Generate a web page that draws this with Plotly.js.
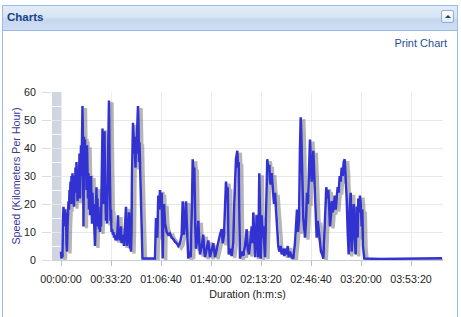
<!DOCTYPE html>
<html>
<head>
<meta charset="utf-8">
<script src="https://cdn.plot.ly/plotly-3.0.1.min.js"></script>
<style>
  html, body { margin:0; padding:0; background:#ffffff; }
  #wrap { position:relative; width:461px; height:317px; overflow:hidden; background:#ffffff; font-family:"Liberation Sans", Arial, sans-serif; }
  #panel { position:absolute; left:2px; top:5px; width:456px; height:330px; border:1px solid #99bbe8; box-sizing:border-box; background:#ffffff; }
  #header { position:absolute; left:2px; top:5px; width:456px; height:26px; box-sizing:border-box; border:1px solid #99bbe8;
            background:linear-gradient(#e3ebf7 0%, #d9e5f4 45%, #c6d8ef 55%, #cfdef2 100%); z-index:3; }
  #header .ttl { position:absolute; left:4px; top:5px; font-weight:bold; font-size:11.5px; color:#15428b; }
  #btn { position:absolute; left:438px; top:4px; width:13px; height:13px; box-sizing:border-box; border:1px solid #8fb0dc; border-radius:2px;
         background:linear-gradient(#ffffff, #dfe8f5); }
  #btn .tri { position:absolute; left:3px; top:4px; width:0; height:0; border-left:3px solid transparent; border-right:3px solid transparent; border-bottom:3px solid #2a3f66; }
  #print { position:absolute; right:14px; top:37px; font-size:11px; color:#27508f; z-index:3; }
  #chart { position:absolute; left:0; top:0; width:461px; height:317px; z-index:2; }
</style>
</head>
<body>
<div id="wrap">
  <div id="panel"></div>
  <div id="header"><span class="ttl">Charts</span><div id="btn"><div class="tri"></div></div></div>
  <div id="print">Print Chart</div>
  <div id="chart"></div>
</div>
<script>
// Elapsed time (seconds) and speed (km/h)
var durationSec = [
  0,20,40,60,80,100,120,160,180,200,220,240,260,280,300,320,340,360,380,400,420,440,460,480,500,520,540,560,580,600,
  620,640,660,680,700,720,740,760,780,800,820,840,860,880,900,920,940,960,980,1000,1020,1040,1060,1080,1100,1120,1140,1160,1180,1200,
  1220,1240,1260,1280,1300,1320,1340,1360,1380,1400,1420,1440,1460,1480,1500,1520,1540,1560,1580,1600,1620,1640,1660,1680,1700,1720,1740,1760,1780,1800,
  1820,1840,1860,1880,1900,1920,1940,1960,1980,2000,2020,2040,2080,2100,2120,2160,2180,2200,2240,2260,2280,2300,2320,2360,2380,2400,2420,2440,2480,2500,
  2520,2540,2560,2600,2620,2640,2660,2680,2700,2720,2740,2760,2780,2800,2820,2840,2860,2880,2900,2920,2940,2960,2980,3000,3020,3040,3060,3080,3100,3120,
  3140,3160,3180,3200,3220,3240,3260,3280,3560,3760,
  3800,3852,3892,3932,3960,4000,4028,4052,4068,4092,4120,4160,4228,4292,4360,4428,4492,4560,4628,4692,4760,4828,4868,4892,4920,4960,5000,5028,5052,5092,
  5132,5188,5240,5268,5308,5332,5372,5400,5452,5492,5532,5560,5628,5692,5732,5760,5828,5892,5960,6028,6092,6160,6228,6292,6360,6428,6468,6520,6560,6600,
  6640,6668,6708,6760,6828,6892,6932,6972,7000,7052,7080,7108,7132,7160,7228,7292,7360,7428,7468,7520,7588,7628,7668,7692,7732,7772,7800,7828,7868,7892,
  7932,7988,8028,8068,8092,8160,8200,8228,8252,8292,8332,8360,8388,8428,8468,8492,8520,8560,8600,8628,8668,8692,8732,8788,8828,8892,8932,8972,9028,9068,
  9108,9160,9228,9292,9360,9400,9440,9480,9520,9560,9588,9612,9640,9668,9692,9732,9760,9800,9840,9880,9920,9960,9988,10028,10068,10092,10132,10172,10200,10228,
  10268,10308,10360,10400,10452,10492,10532,10572,10612,10652,10692,10732,10760,10800,10828,10868,10908,10948,10988,11028,11068,11108,11148,11188,11228,11268,11308,11348,11388,11428,
  11468,11508,11548,11588,11628,11668,11708,11748,11788,11828,11868,11892,11932,11960,11988,12028,12052,12080,12108,12132,12760,13560,14360,15240
];
var speedKmh = [
  3,0.5,2.5,1,14,19,16,18,12,17,6,3,12,17,21,18,25,22,28,20,30,26,31,20,27,19,30,24,33,25,
  35,30,21,29,32,27,38,22,34,41,30,43,55,40,12,44,35,43,30,40,25,41,33,22,31,18,28,16,25,30,
  20,13,24,15,20,14,10,5,12,19,26,15,22,12,19,11,14,10,16,12,20,30,47,36,20,40,46,28,18,14,
  20,13,24,35,50,57,38,22,14,18,10,11,9,10,8,9,7,8,7,10,16,8,9,7,10,12,6,9,6,8,
  5,9,12,19,10,5,8,6,12,17,9,4,6,3,10,30,42,49,45,38,44,40,33,42,38,45,52,55,48,35,
  42,33,25,20,10,4,0.5,0.5,0.4,0.5,
  15,8,23,18,25,20,24,12,0.5,16,20,13,10,9,9.5,8,7.5,6.5,6,5,6,9,21,12,9,15,21,14,10,0.5,
  3,1,20,36,30,33,12,4,8,14,6,2,5,9,3,1,4,7,1,4,6,1,4,7,9,11,6,9,18,28,
  22,26,2,4,1.5,6,20,30,36,39,33,35,15,0.5,3,1.5,5,11,4,2,8,12,6,17,8,1,8,16,9,1,
  31,0.5,16,8,12,1,15,30,36,32,34,28,27,31,26,22,20,24,19,12,9,5,3,5,2,4,1.5,4,2,5,
  1,3,1,0.5,6,11,18,10,14,40,51,45,38,24,15,10,8,14,24,20,30,43,36,28,34,39,30,20,12,8,
  14,10,6,3,2,0.5,8,16,26,22,25,18,12,16,21,17,19,23,18,22,26,24,30,28,33,30,35,36,30,22,
  10,2,18,24,3,14,20,8,2,19,8,22,17,23,20,12,18,5,1,0.5,0.4,0.5,0.5,0.6
];
var timeTickSeconds = [0, 2000, 4000, 6000, 8000, 10000, 12000, 14000];
var timeTickLabels = ["00:00:00", "00:33:20", "01:06:40", "01:40:00", "02:13:20", "02:46:40", "03:20:00", "03:53:20"];
var speedTicks = [0, 10, 20, 30, 40, 50, 60];

var xRange = [-360, 15280];
var yRange = [0, 60];
var fontFam = '"Liberation Sans", Arial, sans-serif';

var shadow = {
  x: durationSec, y: speedKmh, type: 'scatter', mode: 'lines',
  xaxis: 'x2', yaxis: 'y2', hoverinfo: 'skip',
  line: { color: 'rgba(70,70,70,0.4)', width: 3.4 }
};
var main = {
  x: durationSec, y: speedKmh, type: 'scatter', mode: 'lines',
  xaxis: 'x3', yaxis: 'y3', name: 'Speed',
  line: { color: '#3232d2', width: 2.5 }
};

var layout = {
  width: 461, height: 317,
  margin: { l: 52, r: 18, t: 92, b: 57, pad: 0 },
  paper_bgcolor: 'rgba(0,0,0,0)', plot_bgcolor: '#ffffff',
  showlegend: false,
  font: { family: fontFam, size: 10.7, color: '#333333' },
  xaxis: {
    range: xRange, tickmode: 'array', tickvals: timeTickSeconds, ticktext: timeTickLabels,
    showgrid: true, gridcolor: '#ececec', gridwidth: 1, zeroline: false,
    showline: true, linecolor: '#c6ceda', linewidth: 1,
    ticks: 'outside', ticklen: 5, tickcolor: '#b8bec8', ticklabelstandoff: 4,
    tickfont: { family: fontFam, size: 10.7, color: '#222222' },
    title: { text: 'Duration (h:m:s)', font: { family: fontFam, size: 10.7, color: '#222222' }, standoff: 6 },
    fixedrange: true
  },
  yaxis: {
    range: yRange, tickmode: 'array', tickvals: speedTicks,
    showgrid: true, gridcolor: '#e8e8e8', gridwidth: 1, zeroline: false, showline: false,
    ticks: 'outside', ticklen: 9, tickcolor: '#dcdcdc', ticklabelstandoff: 4,
    tickfont: { family: fontFam, size: 10.7, color: '#222222' },
    minor: { dtick: 5, tick0: 0, showgrid: true, gridcolor: 'rgba(255,255,255,0.85)', gridwidth: 1, ticks: '' },
    title: { text: 'Speed (Kilometers Per Hour)', font: { family: fontFam, size: 10.7, color: '#3a3a9a' }, standoff: 1 },
    fixedrange: true
  },
  xaxis2: { overlaying: 'x', range: [xRange[0] - 120, xRange[1] - 120], visible: false, fixedrange: true },
  yaxis2: { overlaying: 'y', range: [yRange[0] + 0.7, yRange[1] + 0.7], visible: false, fixedrange: true },
  xaxis3: { overlaying: 'x', range: xRange, visible: false, fixedrange: true },
  yaxis3: { overlaying: 'y', range: yRange, visible: false, fixedrange: true },
  shapes: [{
    type: 'rect', xref: 'x', yref: 'paper', x0: xRange[0], x1: 0, y0: 0, y1: 1,
    fillcolor: '#cfd6e0', line: { width: 0 }, layer: 'below'
  }]
};

Plotly.newPlot('chart', [shadow, main], layout, { displayModeBar: false, staticPlot: true });
</script>
</body>
</html>
